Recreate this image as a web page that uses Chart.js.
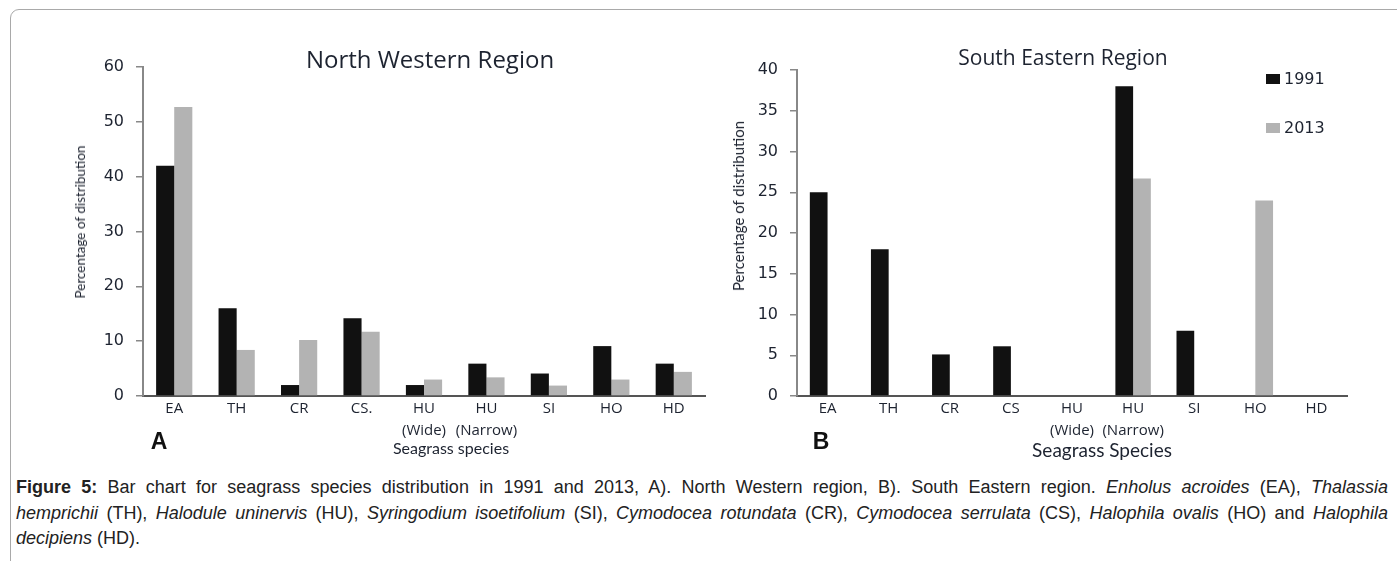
<!DOCTYPE html>
<html>
<head>
<meta charset="utf-8">
<script src="https://cdn.jsdelivr.net/npm/chart.js@4"></script>
<style>
  html, body { margin: 0; padding: 0; background: #fff; }
  body { width: 1397px; height: 561px; position: relative; overflow: hidden; }
  .frame { position: absolute; left: 10px; top: 9px; width: 1500px; height: 700px;
           border: 1px solid #a9a9a9; border-radius: 9px; }
  canvas { position: absolute; top: 0; }
  .t { position: absolute; white-space: nowrap; color: #1d2330; font-family: "Open Sans", Lato, sans-serif; }
  .c { transform: translate(-50%, -50%); }
  .rot { transform: translate(-50%, -50%) rotate(-90deg); }
  .ytitle { font-family: Lato, "Open Sans", sans-serif; }
  .xtitle { font-family: Lato, "Open Sans", sans-serif; }
  .panel { font-size: 23px; font-weight: bold; font-family: "Liberation Sans", Arial, sans-serif; color: #111; }
  .cap { position: absolute; left: 16px; width: 1372px; font-size: 18px; color: #222;
         transform-origin: 0 0; font-family: "Liberation Sans", Arial, sans-serif; }
  .cap div { height: 25.5px; line-height: 25.5px; white-space: nowrap; }
  .just { text-align: justify; text-align-last: justify; }
  .probe { display: inline-block; white-space: nowrap; }
</style>
</head>
<body>
<div class="frame"></div>
<canvas id="nw" width="712" height="470" style="left:0px"></canvas>
<canvas id="se" width="685" height="470" style="left:712px"></canvas>

<div class="t c" style="left:430px; top:58px; font-size:24px">North Western Region</div>
<div class="t c" style="left:1063px; top:57px; font-size:21px">South Eastern Region</div>
<div class="t ytitle rot" style="left:80px; top:222px; font-size:13.5px">Percentage of distribution</div>
<div class="t ytitle rot" style="left:738px; top:206px; font-size:15px">Percentage of distribution</div>
<div class="t panel c" style="left:159px; top:441px">A</div>
<div class="t panel c" style="left:821px; top:441px">B</div>
<div class="t xtitle c" style="left:451px; top:447px; font-size:16px">Seagrass species</div>
<div class="t xtitle c" style="left:1102px; top:449px; font-size:19px">Seagrass Species</div>

<div class="cap" id="cap" style="top:475px">
  <div class="just"><span class="probe"><b>Figure 5:</b> Bar chart for seagrass species distribution in 1991 and 2013, A). North Western region, B). South Eastern region. <i>Enholus acroides</i> (EA), <i>Thalassia</i></span></div>
  <div class="just"><span class="probe"><i>hemprichii</i> (TH), <i>Halodule uninervis</i> (HU), <i>Syringodium isoetifolium</i> (SI), <i>Cymodocea rotundata</i> (CR), <i>Cymodocea serrulata</i> (CS), <i>Halophila ovalis</i> (HO) and <i>Halophila</i></span></div>
  <div><i>decipiens</i> (HD).</div>
</div>

<script>
// Species codes on the category axis (multi-line where the label wraps)
const nwSpecies = [['EA'], ['TH'], ['CR'], ['CS.'], ['HU', '(Wide)'], ['HU', '(Narrow)'], ['SI'], ['HO'], ['HD']];
const seSpecies = [['EA'], ['TH'], ['CR'], ['CS'], ['HU', '(Wide)'], ['HU', '(Narrow)'], ['SI'], ['HO'], ['HD']];

// Survey years
const years = ['1991', '2013'];

// Percentage of distribution, North Western region
const nw1991 = [42, 16, 2, 14.2, 2, 5.9, 4.1, 9.1, 5.9];
const nw2013 = [52.7, 8.4, 10.2, 11.7, 3.0, 3.4, 1.9, 3.0, 4.4];

// Percentage of distribution, South Eastern region
const se1991 = [25, 18, 5.1, 6.1, 0, 38, 8, 0, 0];
const se2013 = [0, 0, 0, 0, 0, 26.7, 0, 24, 0];

// Value axis ranges
const nwMax = 60, nwStep = 10;
const seMax = 40, seStep = 5;

const BLACK = '#111111';
const GREY = '#b3b3b3';
const TICK_FONT = { family: '"DejaVu Sans", Verdana, sans-serif', size: 16 };
const CAT_FONT = { family: '"Open Sans", Lato, sans-serif', size: 15, lineHeight: 1.45 };
const TEXT = '#1d2330';

// Caption: condense horizontally so the two full lines fit the box with only slight justification
(function fitCaption() {
  const cap = document.getElementById('cap');
  const boxW = 1372;
  const probes = cap.querySelectorAll('.probe');
  let widest = 0;
  probes.forEach(p => { widest = Math.max(widest, p.getBoundingClientRect().width); });
  const sx = Math.min(1, (boxW * 0.985) / widest);
  cap.style.width = (boxW / sx) + 'px';
  cap.style.transform = 'scaleX(' + sx + ')';
  // turn probes back into plain inline text so justification spreads the words
  probes.forEach(p => { p.style.display = 'inline'; });
  cap.querySelectorAll('.just').forEach(d => { d.style.whiteSpace = 'normal'; });
})();

// Vertical legend drawn inside the plot, top-right
const sideLegend = {
  id: 'sideLegend',
  afterDraw(chart, args, opts) {
    if (!opts.show) return;
    const ctx = chart.ctx;
    const x = chart.chartArea.right - 81;
    ctx.save();
    chart.data.datasets.forEach((ds, i) => {
      const y = chart.chartArea.top + 4 + i * 49;
      ctx.fillStyle = ds.backgroundColor;
      ctx.fillRect(x, y, 14, 10);
      ctx.fillStyle = TEXT;
      ctx.font = '16px "DejaVu Sans", Verdana, sans-serif';
      ctx.textBaseline = 'middle';
      ctx.fillText(ds.label, x + 18, y + 6);
    });
    ctx.restore();
  }
};

function makeChart(id, labels, a, b, max, step, pad, yWidth, legend) {
  return new Chart(document.getElementById(id), {
    type: 'bar',
    data: {
      labels: labels,
      datasets: [
        { label: years[0], data: a, backgroundColor: BLACK, borderWidth: 0 },
        { label: years[1], data: b, backgroundColor: GREY, borderWidth: 0 }
      ]
    },
    options: {
      responsive: false,
      animation: false,
      events: [],
      categoryPercentage: 0.58,
      barPercentage: 1,
      layout: { padding: pad },
      plugins: {
        legend: { display: false },
        tooltip: { enabled: false },
        title: { display: false },
        sideLegend: { show: legend }
      },
      scales: {
        x: {
          grid: { display: false, drawTicks: false },
          border: { display: true, color: '#555', width: 2 },
          ticks: { color: TEXT, font: CAT_FONT, padding: 2, maxRotation: 0, autoSkip: false },
          afterFit(s) { s.height = 60; }
        },
        y: {
          min: 0, max: max,
          ticks: { stepSize: step, color: TEXT, font: TICK_FONT, padding: 12 },
          grid: { drawOnChartArea: false, drawTicks: true, tickLength: 7, color: '#888', lineWidth: 1.5 },
          border: { display: true, color: '#888', width: 2 },
          afterFit(s) { s.width = yWidth; }
        }
      }
    },
    plugins: [sideLegend]
  });
}

makeChart('nw', nwSpecies, nw1991, nw2013, nwMax, nwStep,
  { left: 100, right: 7, top: 67, bottom: 14 }, 43, false);
makeChart('se', seSpecies, se1991, se2013, seMax, seStep,
  { left: 40, right: 50, top: 70, bottom: 14 }, 45, true);
</script>
</body>
</html>
